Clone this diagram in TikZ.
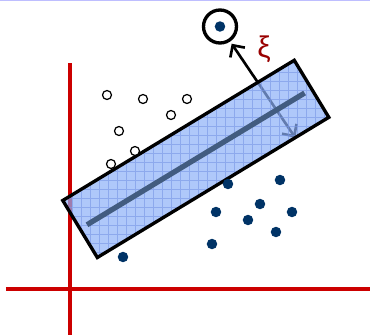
\documentclass[tikz,border=0pt]{standalone}
\usepackage{fontspec}
\setmainfont{Liberation Sans}
\definecolor{axisred}{RGB}{204,0,0}
\definecolor{dotnavy}{RGB}{0,51,102}
\definecolor{boxblue}{RGB}{141,176,248}
\definecolor{gridblue}{RGB}{120,150,230}
\definecolor{hyperline}{RGB}{66,92,128}
\definecolor{xired}{RGB}{153,0,0}
\definecolor{topline}{RGB}{190,190,255}
\usetikzlibrary{arrows.meta,calc}

\begin{document}
\begin{tikzpicture}[
  x=0.02cm,y=-0.02cm,
  every node/.style={inner sep=0pt},
  opendot/.style={circle,draw,fill=white,line width=0.7pt,minimum size=0.18cm},
  fulldot/.style={circle,fill=dotnavy,minimum size=0.21cm},
  ringbox/.style={circle,draw,line width=1.9pt,minimum size=0.66cm},
  boxshape/.style={rectangle,rotate=31.2,minimum width=5.4cm,minimum height=1.32cm},
  axisline/.style={axisred,line width=2.3pt},
  marginarrow/.style={line width=1.5pt,
    {Straight Barb[length=5pt,width=10pt]}-{Straight Barb[length=5pt,width=10pt]}},
]
  \useasboundingbox (0,0) rectangle (370,335);
  \draw[topline,line width=0.8pt] (0,0.5) -- (370,0.5);

  % axes
  \draw[axisline] (70,63) -- (70,335);
  \draw[axisline] (6,289) -- (370,289);

  % outlier and margin arrow
  \node[ringbox] (ring) at (220,26.5) {};
  \node[fulldot] (xi) at (220,26.5) {};
  \node[boxshape] (box) at (195.8,158.9) {};
  \coordinate (foot) at ($(box.south west)!0.855!(box.south east)$);
  \draw[marginarrow,shorten >=1.5pt] (foot) -- (ring);
  \node[text=xired,font=\fontsize{17}{17}\selectfont] (xilabel) at (264,49) {ξ};

  % the margin band
  \fill[boxblue,fill opacity=0.7]
    (box.south west) -- (box.south east) -- (box.north east) -- (box.north west) -- cycle;
  \begin{scope}
    \clip (box.south west) -- (box.south east) -- (box.north east) -- (box.north west) -- cycle;
    \draw[gridblue,line width=0.3pt,opacity=0.6,step=0.18cm] (40,40) grid (340,270);
  \end{scope}
  \draw[line width=1.9pt]
    (box.south west) -- (box.south east) -- (box.north east) -- (box.north west) -- cycle;
  \draw[hyperline,line width=3pt]
    ($(box.west)!0.03!(box.east)$) -- ($(box.west)!0.97!(box.east)$);

  % class points
  \foreach \px/\py [count=\i] in {107/95,143/99,187/99,171/115,119/131,135/151,111/164}
    \node[opendot] (o\i) at (\px,\py) {};
  \foreach \px/\py [count=\i] in {228/184,280/180,260/204,216/212,292/212,248/220,276/232,212/244,123/257}
    \node[fulldot] (d\i) at (\px,\py) {};
\end{tikzpicture}
\end{document}
